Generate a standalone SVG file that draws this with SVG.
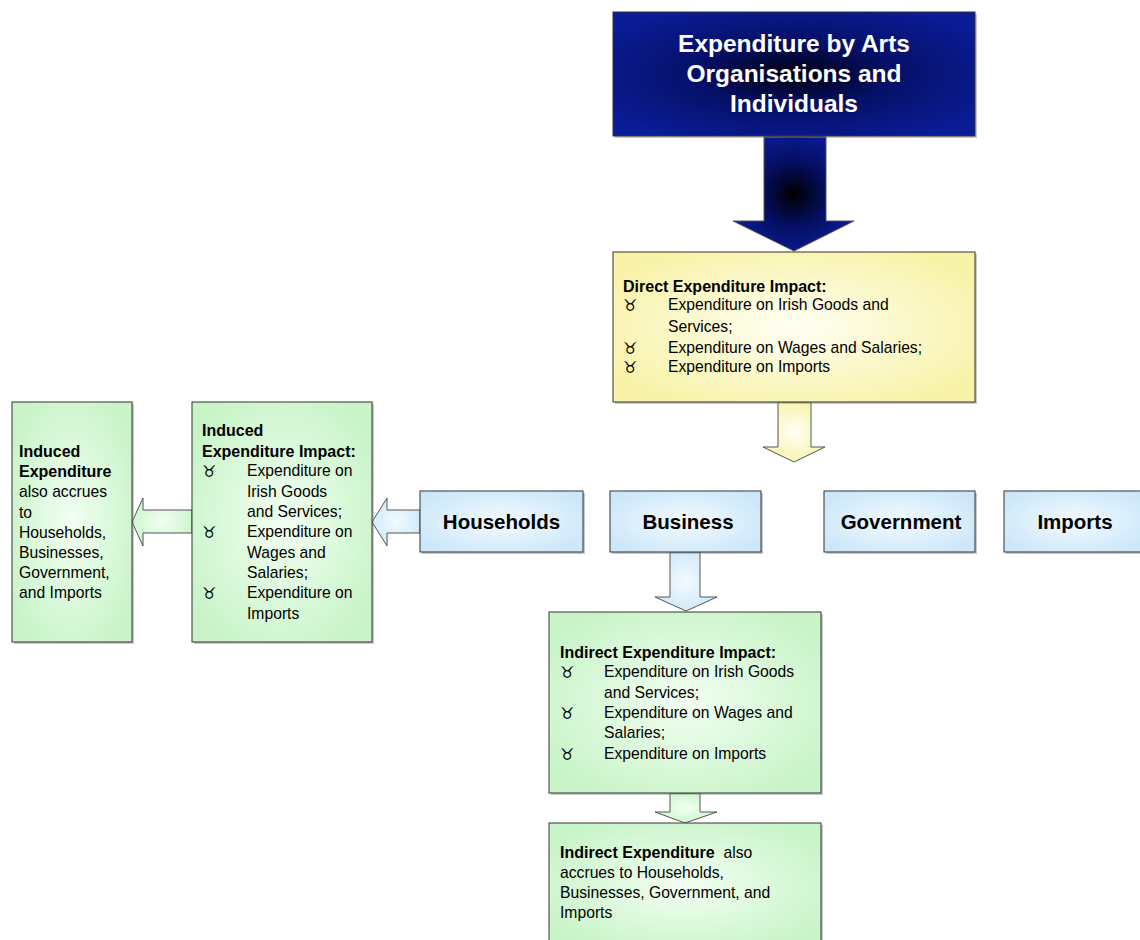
<svg xmlns="http://www.w3.org/2000/svg" width="1140" height="940" viewBox="0 0 1140 940">
<defs>
<radialGradient id="gNavy" cx="50%" cy="50%" r="60%">
<stop offset="0" stop-color="#000010"/>
<stop offset="0.45" stop-color="#061068"/>
<stop offset="1" stop-color="#0A1C96"/>
</radialGradient>
<radialGradient id="gNavyArrow" cx="50%" cy="50%" r="55%">
<stop offset="0" stop-color="#000000"/>
<stop offset="0.5" stop-color="#050E60"/>
<stop offset="1" stop-color="#0A1C96"/>
</radialGradient>
<radialGradient id="gYellow" cx="50%" cy="50%" r="60%">
<stop offset="0" stop-color="#FFFFF4"/>
<stop offset="1" stop-color="#F8F2A6"/>
</radialGradient>
<radialGradient id="gGreen" cx="50%" cy="50%" r="60%">
<stop offset="0" stop-color="#F2FFF2"/>
<stop offset="1" stop-color="#C8F4C8"/>
</radialGradient>
<radialGradient id="gBlue" cx="50%" cy="50%" r="60%">
<stop offset="0" stop-color="#F2FAFF"/>
<stop offset="1" stop-color="#CCE7F9"/>
</radialGradient>
</defs>
<style>
.box{stroke:#333;stroke-width:1}
.shadow{fill:#888;opacity:0.45}
.arr{stroke:#555;stroke-width:1}
.t{font-family:"Liberation Sans",Arial,sans-serif;font-size:15.7px;fill:#000}
.b{font-family:"Liberation Sans",Arial,sans-serif;font-size:16px;font-weight:bold;fill:#000}
.bul{font-family:"DejaVu Sans",sans-serif;font-size:16px;fill:#000}
.lbl{font-family:"Liberation Sans",Arial,sans-serif;font-size:20.5px;font-weight:bold;fill:#000;text-anchor:middle}
.top{font-family:"Liberation Sans",Arial,sans-serif;font-size:24.5px;font-weight:bold;fill:#fff;text-anchor:middle}
</style>
<rect width="1140" height="940" fill="#fff"/>

<g id="connectors">
<path class="arr" d="M764,136 L826,136 L826,221 L854,221 L794,251 L733,221 L764,221 Z" fill="url(#gNavyArrow)" stroke="#111"/>
<path class="arr" d="M778,402 L811,402 L811,447 L825,447 L794,462 L763,447 L778,447 Z" fill="url(#gYellow)"/>
<path class="arr" d="M420,510 L420,533 L387,533 L387,546 L372,522 L387,498 L387,510 Z" fill="url(#gBlue)"/>
<path class="arr" d="M192,510 L192,533 L143,533 L143,546 L132,522 L143,498 L143,510 Z" fill="url(#gGreen)"/>
<path class="arr" d="M670,552 L700,552 L700,597 L717,597 L686,611 L655,597 L670,597 Z" fill="url(#gBlue)"/>
<path class="arr" d="M670,793 L700,793 L700,812 L717,812 L685,823 L655,812 L670,812 Z" fill="url(#gGreen)"/>
</g>

<g id="top">
<rect class="shadow" x="615" y="14" width="362" height="124"/>
<rect class="box" x="613" y="12" width="362" height="124" fill="url(#gNavy)" stroke="#222"/>
<text class="top" x="794" y="52">Expenditure by Arts</text>
<text class="top" x="794" y="82">Organisations and</text>
<text class="top" x="794" y="112">Individuals</text>
</g>

<g id="direct">
<rect class="shadow" x="615" y="254" width="362" height="150"/>
<rect class="box" x="613" y="252" width="362" height="150" fill="url(#gYellow)"/>
<text class="b" x="623" y="292">Direct Expenditure Impact:</text>
<text class="bul" x="623" y="311">♉</text>
<text class="t" x="668" y="310">Expenditure on Irish Goods and</text>
<text class="t" x="668" y="332">Services;</text>
<text class="bul" x="623" y="354">♉</text>
<text class="t" x="668" y="353">Expenditure on Wages and Salaries;</text>
<text class="bul" x="623" y="373">♉</text>
<text class="t" x="668" y="372">Expenditure on Imports</text>
</g>

<g id="households">
<rect class="shadow" x="422" y="493" width="163" height="61"/>
<rect class="box" x="420" y="491" width="163" height="61" fill="url(#gBlue)"/>
<text class="lbl" x="501.5" y="529">Households</text>
</g>
<g id="business">
<rect class="shadow" x="612" y="493" width="151" height="61"/>
<rect class="box" x="610" y="491" width="151" height="61" fill="url(#gBlue)"/>
<text class="lbl" x="688" y="529">Business</text>
</g>
<g id="government">
<rect class="shadow" x="826" y="493" width="151" height="61"/>
<rect class="box" x="824" y="491" width="151" height="61" fill="url(#gBlue)"/>
<text class="lbl" x="901" y="529">Government</text>
</g>
<g id="imports">
<rect class="shadow" x="1006" y="493" width="140" height="61"/>
<rect class="box" x="1004" y="491" width="142" height="61" fill="url(#gBlue)"/>
<text class="lbl" x="1075" y="529">Imports</text>
</g>

<g id="induced-impact">
<rect class="shadow" x="194" y="404" width="180" height="240"/>
<rect class="box" x="192" y="402" width="180" height="240" fill="url(#gGreen)"/>
<text class="b" x="202" y="436">Induced</text>
<text class="b" x="202" y="457">Expenditure Impact:</text>
<text class="bul" x="202" y="477">♉</text>
<text class="t" x="247" y="476">Expenditure on</text>
<text class="t" x="247" y="497">Irish Goods</text>
<text class="t" x="247" y="517">and Services;</text>
<text class="bul" x="202" y="538">♉</text>
<text class="t" x="247" y="537">Expenditure on</text>
<text class="t" x="247" y="558">Wages and</text>
<text class="t" x="247" y="578">Salaries;</text>
<text class="bul" x="202" y="599">♉</text>
<text class="t" x="247" y="598">Expenditure on</text>
<text class="t" x="247" y="619">Imports</text>
</g>

<g id="induced">
<rect class="shadow" x="14" y="404" width="120" height="240"/>
<rect class="box" x="12" y="402" width="120" height="240" fill="url(#gGreen)"/>
<text class="b" x="19" y="457">Induced</text>
<text class="b" x="19" y="477">Expenditure</text>
<text class="t" x="19" y="497">also accrues</text>
<text class="t" x="19" y="518">to</text>
<text class="t" x="19" y="538">Households,</text>
<text class="t" x="19" y="558">Businesses,</text>
<text class="t" x="19" y="578">Government,</text>
<text class="t" x="19" y="598">and Imports</text>
</g>

<g id="indirect-impact">
<rect class="shadow" x="551" y="614" width="272" height="181"/>
<rect class="box" x="549" y="612" width="272" height="181" fill="url(#gGreen)"/>
<text class="b" x="560" y="658">Indirect Expenditure Impact:</text>
<text class="bul" x="560" y="678">♉</text>
<text class="t" x="604" y="677">Expenditure on Irish Goods</text>
<text class="t" x="604" y="698">and Services;</text>
<text class="bul" x="560" y="719">♉</text>
<text class="t" x="604" y="718">Expenditure on Wages and</text>
<text class="t" x="604" y="738">Salaries;</text>
<text class="bul" x="560" y="760">♉</text>
<text class="t" x="604" y="759">Expenditure on Imports</text>
</g>

<g id="indirect">
<rect class="shadow" x="551" y="825" width="272" height="125"/>
<rect class="box" x="549" y="823" width="272" height="125" fill="url(#gGreen)"/>
<text class="t" x="560" y="858"><tspan class="b">Indirect Expenditure</tspan>&#160;&#160;also</text>
<text class="t" x="560" y="878">accrues to Households,</text>
<text class="t" x="560" y="898">Businesses, Government, and</text>
<text class="t" x="560" y="918">Imports</text>
</g>
</svg>
